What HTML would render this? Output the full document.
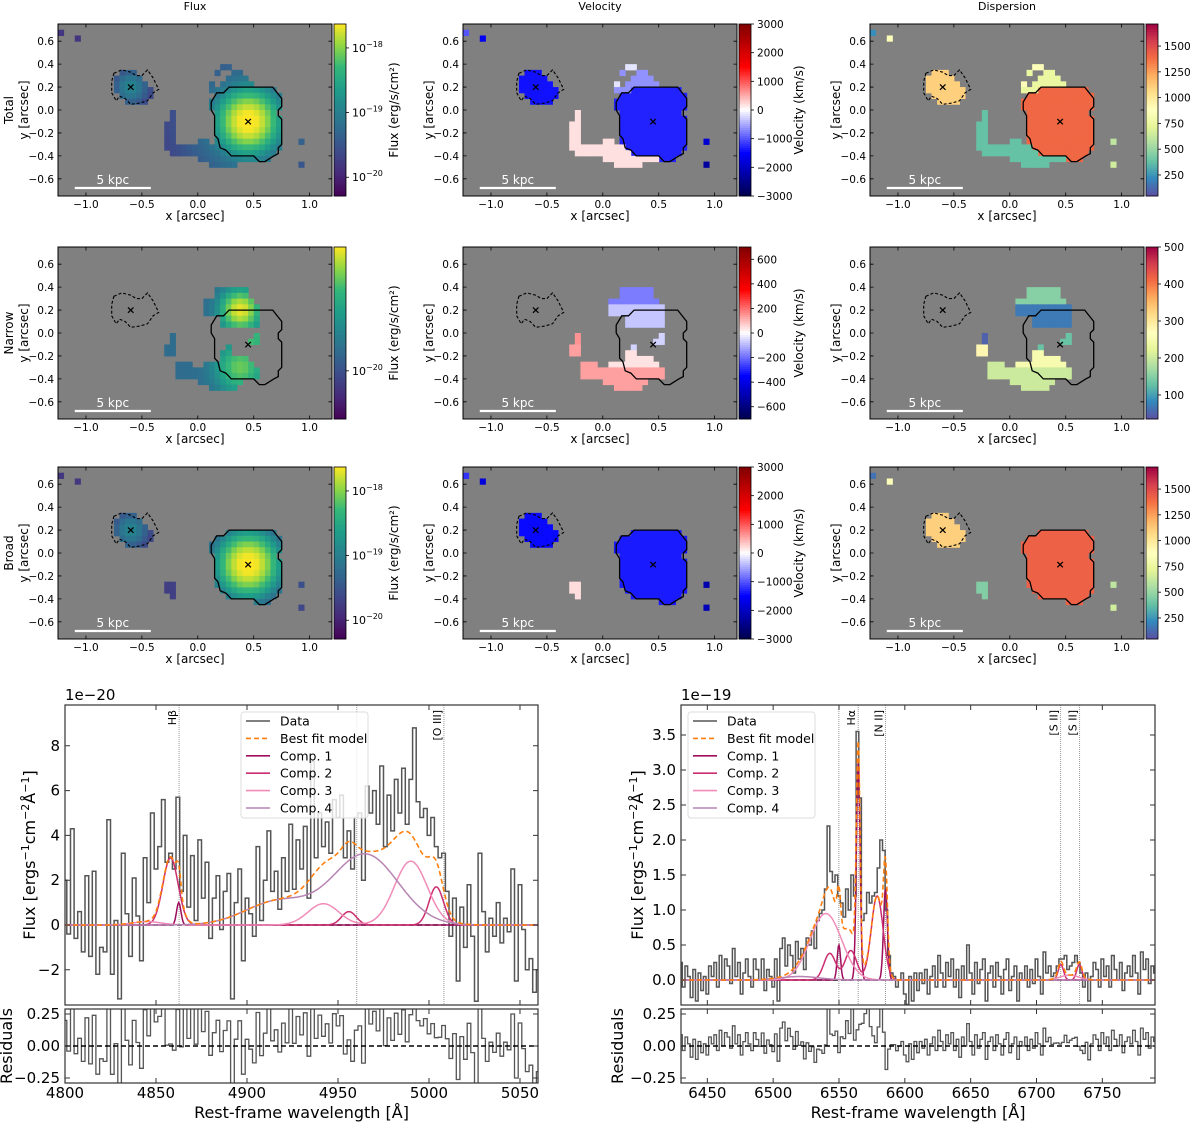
<!DOCTYPE html>
<html>
<head>
<meta charset="utf-8">
<style>
  html,body{margin:0;padding:0;background:#fff;}
  svg{display:block;font-family:"DejaVu Sans","Liberation Sans",sans-serif;}
</style>
</head>
<body>
<svg id="fig" xmlns="http://www.w3.org/2000/svg" width="1200" height="1122" viewBox="0 0 1200 1122"></svg>
<script>
// ================= DATA =================
const rowNames = ["Total","Narrow","Broad"];
const colTitles = ["Flux","Velocity","Dispersion"];
const runsTotal = [
 [0.20,0.25,0.70,"main"],[0.15,0.15,0.75,"main"],[0.10,0.10,0.75,"main"],[0.05,0.10,0.75,"main"],[0.00,0.15,0.70,"main"],
 [-0.05,0.15,0.75,"main"],[-0.10,0.15,0.75,"main"],[-0.15,0.15,0.75,"main"],[-0.20,0.15,0.75,"main"],[-0.25,0.15,0.75,"main"],
 [-0.30,0.20,0.75,"main"],[-0.35,0.25,0.70,"main"],[-0.40,0.50,0.65,"main"],
 [0.40,0.20,0.30,"ext2"],[0.35,0.15,0.20,"ext"],[0.35,0.30,0.40,"ext"],[0.30,0.25,0.45,"ext"],[0.25,0.10,0.15,"ext2"],[0.25,0.20,0.50,"ext"],[0.20,0.10,0.25,"ext"],
 [0.00,-0.25,-0.20,"tail"],[-0.05,-0.25,-0.20,"tail"],[-0.10,-0.30,-0.20,"tail"],[-0.15,-0.30,-0.20,"tail"],[-0.20,-0.30,-0.20,"tail"],
 [-0.25,-0.30,-0.20,"tail"],[-0.25,0.00,0.10,"tail"],[-0.30,-0.30,0.20,"tail"],[-0.35,-0.25,0.25,"tail"],[-0.40,0.00,0.50,"tail"],[-0.45,0.10,0.35,"tail"],
 [0.35,-0.70,-0.55,"small"],[0.30,-0.75,-0.50,"small"],[0.25,-0.75,-0.45,"small"],[0.20,-0.75,-0.40,"small"],[0.15,-0.70,-0.40,"small"],[0.10,-0.65,-0.45,"small"],
 [0.70,-1.25,-1.20,"iso1"],[0.65,-1.10,-1.05,"iso2"],[-0.25,0.90,0.95,"iso3"],[-0.45,0.90,0.95,"iso4"]
];
const runsNarrow = [
 [0.40,0.15,0.45,"upT"],[0.35,0.15,0.45,"upT"],[0.30,0.05,0.50,"upT"],[0.25,0.05,0.55,"upB"],[0.20,0.05,0.55,"upB"],[0.15,0.20,0.55,"upB"],[0.10,0.20,0.55,"upB"],
 [0.00,-0.25,-0.20,"sm1"],[-0.05,-0.25,-0.20,"sm1"],[-0.10,-0.30,-0.20,"sm2"],[-0.15,-0.30,-0.20,"sm2"],
 [0.00,0.50,0.55,"ctr"],[-0.05,0.45,0.55,"ctr"],[-0.10,0.25,0.30,"ctr"],
 [-0.15,0.20,0.30,"lowR"],[-0.20,0.20,0.45,"lowR"],[-0.25,-0.20,-0.05,"low"],[-0.25,0.05,0.50,"lowR"],[-0.30,-0.20,0.55,"low"],
 [-0.35,-0.20,0.55,"low"],[-0.40,0.00,0.40,"low"],[-0.45,0.10,0.35,"low"]
];
const runsBroad = [
 [0.20,0.25,0.70,"main"],[0.15,0.15,0.75,"main"],[0.10,0.10,0.75,"main"],[0.05,0.10,0.75,"main"],[0.00,0.15,0.70,"main"],
 [-0.05,0.15,0.75,"main"],[-0.10,0.15,0.75,"main"],[-0.15,0.15,0.75,"main"],[-0.20,0.15,0.75,"main"],[-0.25,0.15,0.75,"main"],
 [-0.30,0.20,0.75,"main"],[-0.35,0.25,0.70,"main"],[-0.40,0.50,0.65,"main"],
 [0.35,-0.70,-0.55,"small"],[0.30,-0.75,-0.50,"small"],[0.25,-0.75,-0.45,"small"],[0.20,-0.75,-0.40,"small"],[0.15,-0.70,-0.40,"small"],[0.10,-0.65,-0.45,"small"],
 [-0.25,-0.30,-0.20,"blob2"],[-0.30,-0.30,-0.20,"blob2"],[-0.35,-0.25,-0.20,"blob2"],
 [0.70,-1.25,-1.20,"iso1"],[0.65,-1.10,-1.05,"iso2"],[-0.25,0.90,0.95,"iso3"],[-0.45,0.90,0.95,"iso4"]
];
const mapRuns = [runsTotal, runsNarrow, runsBroad];
const fluxComps = [
 [[0.45,-0.1,2.6e-18,0.12],[0.45,-0.1,8e-20,0.35],[-0.6,0.2,1.0e-19,0.08]],
 [[0.38,0.2,3.7e-20,0.11],[0.38,-0.3,2.2e-20,0.14],[0.5,-0.05,1.5e-20,0.05]],
 [[0.45,-0.1,2.6e-18,0.12],[0.45,-0.1,5e-20,0.3],[-0.6,0.2,1.0e-19,0.08]]
];
const fluxBase = [1.5e-20, 1.3e-20, 1.6e-20];
const fluxLogRange = [[-20.29,-17.63],[-20.28,-19.28],[-20.29,-17.63]];
const fluxTicks = [[-18,-19,-20],[-20],[-18,-19,-20]];
const velTotal = {main:-1300, ext:-650, ext2:-150, tail:180, small:-1400, iso1:-1000, iso2:-1600, iso3:-1900, iso4:-2300};
const velNarrow = {upT:-180, upB:-80, sm1:150, sm2:130, ctr:-60, low:130, lowR:40};
const velBroad = {main:-1350, small:-1450, blob2:200, iso1:-1200, iso2:-1800, iso3:-2200, iso4:-2100};
const velZones = [velTotal, velNarrow, velBroad];
const velMax = [3000, 700, 3000];
const velTicks = [[3000,2000,1000,0,-1000,-2000,-3000],[600,400,200,0,-200,-400,-600],[3000,2000,1000,0,-1000,-2000,-3000]];
const dispTotal = {main:1400, ext:750, ext2:850, tail:380, small:1100, iso1:230, iso2:850, iso3:600, iso4:650};
const dispNarrow = {upT:150, upB:70, sm1:50, sm2:280, ctr:130, low:200, lowR:250};
const dispBroad = {main:1420, small:1100, blob2:450, iso1:150, iso2:850, iso3:600, iso4:650};
const dispZones = [dispTotal, dispNarrow, dispBroad];
const dispRange = [[46,1714],[35,500],[46,1714]];
const dispTicks = [[250,500,750,1000,1250,1500],[100,200,300,400,500],[250,500,750,1000,1250,1500]];
const mainContour = [[0.28,0.2],[0.67,0.2],[0.75,0.1],[0.75,0.03],[0.72,0],[0.72,-0.05],[0.75,-0.08],[0.75,-0.3],[0.72,-0.33],[0.72,-0.38],[0.68,-0.4],[0.6,-0.45],[0.55,-0.45],[0.5,-0.4],[0.3,-0.4],[0.25,-0.35],[0.2,-0.33],[0.18,-0.25],[0.15,-0.22],[0.15,-0.05],[0.12,0],[0.12,0.07],[0.17,0.15],[0.23,0.15]];
const smallContour = [[-0.75,0.32],[-0.68,0.35],[-0.6,0.33],[-0.55,0.3],[-0.5,0.3],[-0.45,0.35],[-0.4,0.28],[-0.35,0.18],[-0.4,0.15],[-0.45,0.08],[-0.52,0.06],[-0.6,0.05],[-0.65,0.1],[-0.7,0.12],[-0.73,0.08],[-0.77,0.15],[-0.77,0.25]];
const centers = [[-0.6,0.2],[0.45,-0.1]];

const leftWaveStart = 4800, leftWaveStep = 2;
const leftFlux = [2.0,-0.4,4.3,-0.6,0.6,-1.2,2.2,-1.4,2.4,-2.2,-1.0,-1.2,4.7,-2.2,0.2,-3.3,3.2,0.5,-1.4,2.1,
 0.4,-1.6,3.0,1.0,5.0,2.5,3.5,5.6,2.8,3.2,2.5,5.7,1.5,4.0,0.8,3.1,0.2,3.8,1.2,2.8,
 -0.6,1.2,2.2,-0.2,1.5,2.3,-3.3,1.0,2.5,-1.6,1.2,0.5,-0.5,3.5,0.2,2.0,4.2,1.5,2.4,0.7,
 3.0,1.5,4.5,1.6,3.8,2.5,4.4,1.2,7.3,3.0,5.0,3.5,4.6,3.2,5.6,4.8,5.8,3.0,4.2,2.5,
 4.8,5.0,2.0,6.2,5.0,6.0,4.5,7.1,3.5,5.8,4.2,6.5,5.0,7.0,4.5,6.5,8.8,5.5,4.8,5.2,
 4.0,4.8,3.5,3.0,3.2,1.5,-0.5,1.2,-2.5,0.8,-1.0,1.8,-0.5,-3.4,3.2,0.6,-1.2,0.3,-0.5,1.0,
 -0.8,0.3,-0.3,2.5,-2.5,1.8,-0.2,-2.0,-1.5,-3.0,-2.0];
const leftComp1 = [[4862.5,1.0,1.2]];
const leftComp2 = [[4858,3.0,4.2],[4956,0.6,4],[5004,1.7,4]];
const leftComp3 = [[4845,0.15,8],[4942,0.95,8.5],[4990,2.85,9]];
const leftComp4 = [[4917,1.05,18],[4965,3.15,18]];
const leftLines = [4862.7,4960.3,5008.2];
const leftLineLabels = ["Hβ","","[O III]"];
const leftXTicks = [4800,4850,4900,4950,5000,5050];
const leftYTicks = [-2,0,2,4,6,8];
const rightWaveStart = 6430, rightWaveStep = 2;
const rightFlux = [0.25,-0.1,0.2,0.05,-0.25,0.15,-0.3,0.1,-0.15,0.05,
 -0.2,0.2,0.05,0.25,-0.1,0.35,0.0,0.3,0.2,-0.05,
 0.45,0.05,0.25,-0.2,0.1,0.3,0.05,-0.1,0.3,0.15,
 0.0,0.3,-0.15,0.15,0.05,-0.1,0.3,-0.3,0.45,0.6,
 0.2,0.5,0.35,0.1,0.55,0.3,0.45,0.15,0.6,0.5,
 0.7,0.45,0.85,0.95,1.0,1.3,2.2,1.55,1.4,1.5,
 1.2,1.1,0.9,1.3,1.0,1.5,1.2,3.55,2.6,0.85,
 0.95,1.25,1.1,1.2,1.25,1.6,2.0,1.85,1.0,0.35,
 0.1,0.05,-0.1,0.0,0.1,-0.2,-0.35,0.05,-0.3,0.1,
 -0.15,0.1,-0.05,0.15,-0.2,0.05,0.2,-0.1,0.35,0.1,
 -0.1,0.25,0.05,0.3,-0.1,0.15,-0.25,0.2,0.0,0.5,
 0.1,-0.2,0.25,-0.05,0.15,0.3,-0.3,0.1,0.2,-0.1,
 0.25,0.05,-0.2,0.15,0.3,-0.15,0.05,0.2,-0.3,0.1,
 0.0,0.2,-0.1,0.15,-0.05,0.3,0.05,-0.2,0.4,0.1,
 0.2,0.05,0.1,0.2,0.3,0.3,0.35,0.15,0.2,0.25,
 0.35,0.25,0.1,-0.1,0.1,-0.3,0.05,0.25,0.15,-0.1,
 0.3,0.05,0.2,-0.1,0.35,0.15,0.0,0.25,-0.15,0.1,
 0.2,0.05,0.35,0.1,-0.2,0.4,0.15,0.3,-0.05,0.2,
 0.1];
const rightComp1 = [[6549.9,0.5,1.3],[6564.6,3.1,1.4],[6585.3,1.3,1.5]];
const rightComp2 = [[6543,0.38,4.5],[6559,0.42,4.5],[6579,1.2,4.5],[6718.5,0.22,2],[6732.5,0.22,2]];
const rightComp3 = [[6540,0.95,12],[6725,0.07,7]];
const rightComp4 = [[6520,0.05,15]];
const rightLines = [6549.9,6564.6,6585.3,6718.3,6732.7];
const rightLineLabels = ["","Hα","[N II]","[S II]","[S II]"];
const rightXTicks = [6450,6500,6550,6600,6650,6700,6750];
const rightYTicks = [0.0,0.5,1.0,1.5,2.0,2.5,3.0,3.5];
const residTicks = [0.25,0.00,-0.25];
const legendLabels = ["Data","Best fit model","Comp. 1","Comp. 2","Comp. 3","Comp. 4"];

// ================= HELPERS =================
const NS = "http://www.w3.org/2000/svg";
const svg = document.getElementById('fig');
function E(tag, a, parent){ const el = document.createElementNS(NS, tag); for (const k in a) el.setAttribute(k, a[k]); (parent||svg).appendChild(el); return el; }
function T(x, y, s, size, anchor, parent, extra){ const el = E('text', Object.assign({x:x, y:y, 'font-size':size, 'text-anchor':anchor||'middle', fill:'#000'}, extra||{}), parent); el.textContent = s; return el; }
function lerpStops(stops, t){ t = Math.max(0, Math.min(1, t)); for (let i=1;i<stops.length;i++){ if (t <= stops[i][0]){ const a=stops[i-1], b=stops[i]; const f=(t-a[0])/(b[0]-a[0]); const c=[0,1,2].map(k=>Math.round(a[1][k]+(b[1][k]-a[1][k])*f)); return 'rgb('+c.join(',')+')'; } } const l=stops[stops.length-1][1]; return 'rgb('+l.join(',')+')'; }
const viridis = [[0,[68,1,84]],[0.125,[71,40,120]],[0.25,[62,73,137]],[0.375,[49,104,142]],[0.5,[38,130,142]],[0.625,[31,158,137]],[0.75,[53,183,121]],[0.875,[144,215,67]],[1,[253,231,37]]];
const seismic = [[0,[0,0,77]],[0.25,[0,0,255]],[0.5,[255,255,255]],[0.75,[255,0,0]],[1,[128,0,0]]];
const spectralR = [[0,[94,79,162]],[0.1,[50,136,189]],[0.2,[102,194,165]],[0.3,[171,221,164]],[0.4,[230,245,152]],[0.5,[255,255,191]],[0.6,[254,224,139]],[0.7,[253,174,97]],[0.8,[244,109,67]],[0.9,[213,62,79]],[1,[158,1,66]]];

// ================= MAPS =================
const MAPCOLS = [58,463,870], MAPW = 274, MAPTOP = [24,247,467], MAPH = 172;
colTitles.forEach((t,c)=>{
  const el = T(MAPCOLS[c]+MAPW/2, 10, t, 11);
  
  
});
function fluxValue(r, a, b){ let s = fluxBase[r]; fluxComps[r].forEach(g=>{ const d2=(a-g[0])**2+(b-g[1])**2; s += g[2]*Math.exp(-d2/(2*g[3]*g[3])); }); return Math.log10(s); }
function pixColor(r, c, a, b, zone){
  if (c===0){ const lr=fluxLogRange[r]; return lerpStops(viridis, (fluxValue(r,a,b)-lr[0])/(lr[1]-lr[0])); }
  if (c===1){ const v=velZones[r][zone]; return lerpStops(seismic, (v+velMax[r])/(2*velMax[r])); }
  const d=dispZones[r][zone], dr=dispRange[r]; return lerpStops(spectralR, (d-dr[0])/(dr[1]-dr[0]));
}
for (let r=0;r<3;r++){
  for (let c=0;c<3;c++){
    const x0=MAPCOLS[c], y0=MAPTOP[r];
    const xs = a => x0 + (a+1.25)/2.45*MAPW;
    const ys = b => y0 + (0.75-b)/1.5*MAPH;
    const g = E('g', {});
    
    
    const bg = E('rect', {x:x0, y:y0, width:MAPW, height:MAPH, fill:'#808080'}, g);
    
    
    mapRuns[r].forEach(run=>{
      const yt=run[0];
      for (let a=run[1]; a<run[2]-1e-6; a+=0.05){
        const col = pixColor(r, c, a+0.025, yt-0.025, run[3]);
        const px = E('rect', {x:xs(a).toFixed(2), y:ys(yt).toFixed(2), width:(xs(a+0.05)-xs(a)+0.5).toFixed(2), height:(ys(yt-0.05)-ys(yt)+0.5).toFixed(2), fill:col}, g);
        
        
      }
    });
    const mc = E('polygon', {points: mainContour.map(p=>xs(p[0]).toFixed(1)+','+ys(p[1]).toFixed(1)).join(' '), fill:'none', stroke:'#000', 'stroke-width':1.3}, g);
    
    
    const sc = E('polygon', {points: smallContour.map(p=>xs(p[0]).toFixed(1)+','+ys(p[1]).toFixed(1)).join(' '), fill:'none', stroke:'#000', 'stroke-width':1.1, 'stroke-dasharray':'3,2'}, g);
    
    
    centers.forEach(p=>{
      const m = T(xs(p[0]), ys(p[1])+3.5, '×', 11, 'middle', g, {'font-weight':'bold'});
      
      
    });
    const sb = E('line', {x1:xs(-1.1), x2:xs(-0.42), y1:ys(-0.68), y2:ys(-0.68), stroke:'#fff', 'stroke-width':2.2}, g);
    
    
    const sbt = T(xs(-0.76), ys(-0.68)-4, '5 kpc', 12, 'middle', g, {fill:'#fff'});
    
    
    const fr = E('rect', {x:x0, y:y0, width:MAPW, height:MAPH, fill:'none', stroke:'#000', 'stroke-width':1}, g);
    
    
    [-1.0,-0.5,0.0,0.5,1.0].forEach(v=>{
      const X=xs(v);
      const t1 = E('path', {d:`M${X},${y0+MAPH}v-3.5M${X},${y0}v3.5`, stroke:'#000', 'stroke-width':0.8}, g);
      
      
      const lb = T(X, y0+MAPH+12, (v<0?'−':'')+Math.abs(v).toFixed(1), 10.5, 'middle', g);
      
      
    });
    [0.6,0.4,0.2,0.0,-0.2,-0.4,-0.6].forEach(v=>{
      const Y=ys(v);
      const t1 = E('path', {d:`M${x0},${Y}h3.5M${x0+MAPW},${Y}h-3.5`, stroke:'#000', 'stroke-width':0.8}, g);
      
      
      const lb = T(x0-4, Y+4, (v<0?'−':'')+Math.abs(v).toFixed(1), 10.5, 'end', g);
      
      
    });
    const xl = T(x0+MAPW/2, y0+MAPH+24, 'x [arcsec]', 12, 'middle', g);
    
    
    const yl = T(0, 0, 'y [arcsec]', 12, 'middle', g, {transform:`translate(${x0-30},${y0+MAPH/2}) rotate(-90)`});
    
    
    if (c===0){
      const rl = T(0, 0, rowNames[r], 12, 'middle', g, {transform:`translate(${x0-45},${y0+MAPH/2}) rotate(-90)`});
      
      
    }
    const cbx = x0+MAPW+2, cbw = 12;
    const cb = E('g', {}, g);
    
    
    const N=86;
    for (let k=0;k<N;k++){
      const t = 1-(k+0.5)/N;
      const cmap = c===0?viridis:(c===1?seismic:spectralR);
      const s = E('rect', {x:cbx, y:(y0+k*MAPH/N).toFixed(2), width:cbw, height:(MAPH/N+0.4).toFixed(2), fill:lerpStops(cmap,t)}, cb);
      
      
    }
    const cbf = E('rect', {x:cbx, y:y0, width:cbw, height:MAPH, fill:'none', stroke:'#000', 'stroke-width':0.8}, cb);
    
    
    let ticks, pos;
    if (c===0){ const lr=fluxLogRange[r]; ticks=fluxTicks[r]; pos=v=>y0+MAPH*(1-(v-lr[0])/(lr[1]-lr[0])); }
    else if (c===1){ ticks=velTicks[r]; pos=v=>y0+MAPH*(1-(v+velMax[r])/(2*velMax[r])); }
    else { const dr=dispRange[r]; ticks=dispTicks[r]; pos=v=>y0+MAPH*(1-(v-dr[0])/(dr[1]-dr[0])); }
    ticks.forEach(v=>{
      const Y=pos(v);
      const tk = E('line', {x1:cbx+cbw, x2:cbx+cbw+3, y1:Y, y2:Y, stroke:'#000', 'stroke-width':0.8}, cb);
      
      
      let lb;
      if (c===0){
        lb = T(cbx+cbw+6, Y+4, '10', 11, 'start', cb);
        const sp = E('tspan', {dy:-5, 'font-size':8}, lb); sp.textContent = '−' + Math.abs(v);
      } else {
        lb = T(cbx+cbw+6, Y+4, (v<0?'−':'')+Math.abs(v), 10.5, 'start', cb);
      }
      
      
    });
    const cbLabel = c===0 ? 'Flux (erg/s/cm²)' : (c===1 ? 'Velocity (km/s)' : 'Dispersion (km/s)');
    const cl = T(0, 0, cbLabel, 12, 'middle', cb, {transform:`translate(${cbx+cbw+52},${y0+MAPH/2}) rotate(-90)`});
    
    
  }
}

// ================= SPECTRA =================
function gsum(comps, l){ let s=0; comps.forEach(g=>{ s += g[1]*Math.exp(-((l-g[0])**2)/(2*g[2]*g[2])); }); return s; }
const compColors = ['#9e0e5c','#cc2d6f','#f08cb8','#b784b3'];
function drawSpectrum(cfg){
  const g = E('g', {});
  
  
  const X = l => cfg.x0 + (l-cfg.l0)/(cfg.l1-cfg.l0)*(cfg.x1-cfg.x0);
  const Y = f => cfg.zeroY - f*cfg.ppu;
  const R = v => 1046 - v*128;
  const top=705, bot=1005, rtop=1009, rbot=1083;
  const cid = cfg.name+'-clip', rid = cfg.name+'-rclip';
  const defs = E('defs', {}, g);
  const cp = E('clipPath', {id:cid}, defs); E('rect', {x:cfg.x0, y:top, width:cfg.x1-cfg.x0, height:bot-top}, cp);
  const rp = E('clipPath', {id:rid}, defs); E('rect', {x:cfg.x0, y:rtop, width:cfg.x1-cfg.x0, height:rbot-rtop}, rp);
  const comps = [cfg.c1,cfg.c2,cfg.c3,cfg.c4];
  const model = l => comps.reduce((s,c)=>s+gsum(c,l),0);
  const main = E('g', {'clip-path':`url(#${cid})`}, g);
  let d='', rd='';
  cfg.data.forEach((v,i)=>{
    const l = cfg.ws + i*cfg.step;
    const xa = X(l-cfg.step/2), xb = X(l+cfg.step/2);
    d += (i===0?'M':'L') + xa.toFixed(1)+','+Y(v).toFixed(1)+'L'+xb.toFixed(1)+','+Y(v).toFixed(1);
    const res = (v - model(l))*cfg.unit;
    rd += (i===0?'M':'L') + xa.toFixed(1)+','+R(res).toFixed(1)+'L'+xb.toFixed(1)+','+R(res).toFixed(1);
  });
  cfg.lines.forEach((l,i)=>{
    const vl = E('line', {x1:X(l), x2:X(l), y1:top, y2:bot, stroke:'#999', 'stroke-width':1, 'stroke-dasharray':'1,1'}, main);
    
    
  });
  const dp = E('path', {d:d, fill:'none', stroke:'#555', 'stroke-width':1.5}, main);
  
  
  const zl = E('line', {x1:cfg.x0, x2:cfg.x1, y1:Y(0), y2:Y(0), stroke:'#000', 'stroke-width':1.5, 'stroke-dasharray':'5,3'}, main);
  
  
  comps.forEach((c,ci)=>{
    let p='';
    for (let l=cfg.l0; l<=cfg.l1; l+=0.5){ p += (l===cfg.l0?'M':'L') + X(l).toFixed(1)+','+Y(gsum(c,l)).toFixed(1); }
    const cpth = E('path', {d:p, fill:'none', stroke:compColors[ci], 'stroke-width':1.5}, main);
    
    
  });
  let mp='';
  for (let l=cfg.l0; l<=cfg.l1; l+=0.5){ mp += (l===cfg.l0?'M':'L') + X(l).toFixed(1)+','+Y(model(l)).toFixed(1); }
  const mpe = E('path', {d:mp, fill:'none', stroke:'#ff7f0e', 'stroke-width':1.6, 'stroke-dasharray':'5,3'}, main);
  
  
  cfg.lines.forEach((l,i)=>{
    if (!cfg.labels[i]) return;
    const lt = T(0, 0, cfg.labels[i], 11, 'end', g, {transform:`translate(${X(l)-3},${710}) rotate(-90)`});
    
    
  });
  const rg = E('g', {'clip-path':`url(#${rid})`}, g);
  const rpth = E('path', {d:rd, fill:'none', stroke:'#555', 'stroke-width':1.3}, rg);
  
  
  const rz = E('line', {x1:cfg.x0, x2:cfg.x1, y1:R(0), y2:R(0), stroke:'#000', 'stroke-width':1.5, 'stroke-dasharray':'5,3'}, rg);
  
  
  const f1 = E('rect', {x:cfg.x0, y:top, width:cfg.x1-cfg.x0, height:bot-top, fill:'none', stroke:'#333', 'stroke-width':1.2}, g);
  
  
  const f2 = E('rect', {x:cfg.x0, y:rtop, width:cfg.x1-cfg.x0, height:rbot-rtop, fill:'none', stroke:'#333', 'stroke-width':1.2}, g);
  
  
  cfg.xticks.forEach(v=>{
    const x=X(v);
    const tk = E('path', {d:`M${x},${bot}v-5M${x},${top}v5M${x},${rbot}v-5M${x},${rtop}v5`, stroke:'#333', 'stroke-width':1}, g);
    
    
    const lb = T(x, 1098, String(v), 15, 'middle', g);
    
    
  });
  cfg.yticks.forEach(v=>{
    const y=Y(v);
    const tk = E('path', {d:`M${cfg.x0},${y}h5M${cfg.x1},${y}h-5`, stroke:'#333', 'stroke-width':1}, g);
    
    
    const lb = T(cfg.x0-5, y+5, (v<0?'−':'')+Math.abs(v).toFixed(cfg.ydec), 15, 'end', g);
    
    
  });
  residTicks.forEach(v=>{
    const y=R(v);
    const tk = E('path', {d:`M${cfg.x0},${y}h5M${cfg.x1},${y}h-5`, stroke:'#333', 'stroke-width':1}, g);
    
    
    const lb = T(cfg.x0-5, y+5, (v<0?'−':'')+Math.abs(v).toFixed(2), 15, 'end', g);
    
    
  });
  const off = T(cfg.x0, 700, cfg.offset, 15, 'start', g);
  
  
  const xt = T((cfg.x0+cfg.x1)/2, 1118, 'Rest-frame wavelength [Å]', 16, 'middle', g);
  
  
  const yt = T(0, 0, 'Flux [ergs', 16, 'middle', g, {transform:`translate(${cfg.ylabX},855) rotate(-90)`});
  [['−1',true],['cm',false],['−2',true],['Å',false],['−1',true],[']',false]].forEach(p=>{
    const sp = E('tspan', p[1]?{dy:-6,'font-size':11}:{dy:6}, yt); sp.textContent = p[0];
  });
  
  
  const rt = T(0, 0, 'Residuals', 16, 'middle', g, {transform:`translate(${cfg.rlabX},1046) rotate(-90)`});
  
  
  const lg = E('g', {}, g);
  
  
  const lbx = E('rect', {x:cfg.legX, y:712, width:127, height:106, rx:3, fill:'#fff', 'fill-opacity':0.8, stroke:'#ddd'}, lg);
  
  
  const lcols = ['#555','#ff7f0e'].concat(compColors);
  legendLabels.forEach((s,i)=>{
    const y = 721 + i*17.4;
    const ln = E('line', {x1:cfg.legX+5, x2:cfg.legX+29, y1:y, y2:y, stroke:lcols[i], 'stroke-width':1.6, 'stroke-dasharray': i===1?'5,3':'none'}, lg);
    
    
    const lt = T(cfg.legX+39, y+4.5, s, 12.5, 'start', lg);
    
    
  });
}
drawSpectrum({name:'spectrum-hbeta-oiii', x0:65, x1:538, l0:4800, l1:5059.9, zeroY:925, ppu:22.4, ws:leftWaveStart, step:leftWaveStep,
  data:leftFlux, c1:leftComp1, c2:leftComp2, c3:leftComp3, c4:leftComp4, lines:leftLines, labels:leftLineLabels,
  xticks:leftXTicks, yticks:leftYTicks, ydec:0, unit:0.1, offset:'1e−20', ylabX:35, rlabX:12, legX:241});
drawSpectrum({name:'spectrum-halpha-nii', x0:681, x1:1155, l0:6430, l1:6790, zeroY:980, ppu:70, ws:rightWaveStart, step:rightWaveStep,
  data:rightFlux, c1:rightComp1, c2:rightComp2, c3:rightComp3, c4:rightComp4, lines:rightLines, labels:rightLineLabels,
  xticks:rightXTicks, yticks:rightYTicks, ydec:1, unit:0.35, offset:'1e−19', ylabX:643, rlabX:623, legX:688});
</script>
</body>
</html>
